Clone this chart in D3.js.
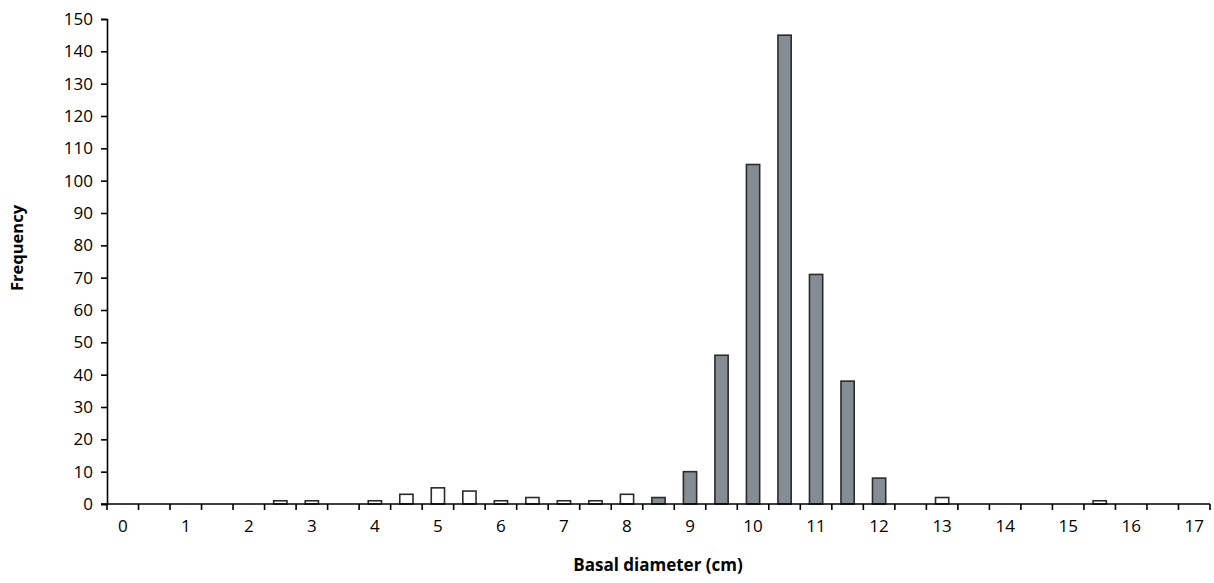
<!DOCTYPE html>
<html>
<head>
<meta charset="utf-8">
<script src="https://cdn.jsdelivr.net/npm/d3@7"></script>
<style>
  body { margin: 0; background: #fff; }
  text { font-family: "Open Sans", "DejaVu Sans", sans-serif; fill: #000; }
</style>
</head>
<body>
<script>
// diameter classes (cm), half-cm steps from 0 to 17
var classes = d3.range(0, 17.01, 0.5);
// counts, by class
var openCounts = {2.5: 1, 3: 1, 4: 1, 4.5: 3, 5: 5, 5.5: 4, 6: 1, 6.5: 2, 7: 1, 7.5: 1, 8: 3, 13: 2, 15.5: 1};
var greyCounts = {8.5: 2, 9: 10, 9.5: 46, 10: 105, 10.5: 145, 11: 71, 11.5: 38, 12: 8};
var yTicks = d3.range(0, 151, 10);

var width = 1214, height = 583;
var margin = {top: 19, right: 4, bottom: 79, left: 107};

var svg = d3.select("body").append("svg")
    .attr("width", width)
    .attr("height", height);

var x = d3.scaleBand()
    .domain(classes)
    .range([margin.left, width - margin.right])
    .paddingInner(0)
    .paddingOuter(0);

var y = d3.scaleLinear()
    .domain([0, 150])
    .range([height - margin.bottom, margin.top]);

var barW = x.bandwidth() * 0.42;

function drawBars(counts, fill, cls) {
  var rows = Object.keys(counts).map(function (k) { return {c: +k, n: counts[k]}; });
  svg.selectAll("rect." + cls)
    .data(rows)
    .enter()
    .append("rect")
      .attr("class", cls)
      .attr("x", function (d) { return x(d.c) + (x.bandwidth() - barW) / 2; })
      .attr("y", function (d) { return y(d.n); })
      .attr("width", barW)
      .attr("height", function (d) { return y(0) - y(d.n); })
      .attr("fill", fill)
      .attr("stroke", "#2b2b2b")
      .attr("stroke-width", 1.6);
}

drawBars(openCounts, "#ffffff", "open");
drawBars(greyCounts, "#858d94", "grey");

// y axis
var yAxis = svg.append("g")
    .attr("transform", "translate(" + margin.left + ",0)")
    .call(d3.axisLeft(y).tickValues(yTicks).tickSize(6).tickPadding(8));
yAxis.selectAll("text").style("font-size", "17px");
yAxis.select(".domain").attr("stroke-width", 1.6);
yAxis.selectAll(".tick line").attr("stroke-width", 1.6);

// x axis: ticks between classes, labels on whole cm
var xAxis = svg.append("g")
    .attr("transform", "translate(0," + y(0) + ")");
xAxis.append("line")
    .attr("x1", margin.left - 6).attr("x2", width - margin.right)
    .attr("stroke", "#000").attr("stroke-width", 1.6);
var bounds = classes.map(function (c) { return x(c); }).concat([x(17) + x.bandwidth()]);
xAxis.selectAll("line.tick")
  .data(bounds)
  .enter()
  .append("line")
    .attr("class", "tick")
    .attr("x1", function (d) { return d; })
    .attr("x2", function (d) { return d; })
    .attr("y1", 0).attr("y2", 6)
    .attr("stroke", "#000").attr("stroke-width", 1.6);
xAxis.selectAll("text")
  .data(classes.filter(function (c) { return c % 1 === 0; }))
  .enter()
  .append("text")
    .attr("x", function (d) { return x(d) + x.bandwidth() / 2; })
    .attr("y", 28)
    .attr("text-anchor", "middle")
    .style("font-size", "17px")
    .text(function (d) { return d; });

svg.append("text")
    .attr("transform", "translate(23,248) rotate(-90)")
    .attr("text-anchor", "middle")
    .style("font-size", "16.5px")
    .style("font-weight", "bold")
    .text("Frequency");

svg.append("text")
    .attr("x", 658)
    .attr("y", 571)
    .attr("text-anchor", "middle")
    .style("font-size", "17px")
    .style("font-weight", "bold")
    .text("Basal diameter (cm)");
</script>
</body>
</html>
